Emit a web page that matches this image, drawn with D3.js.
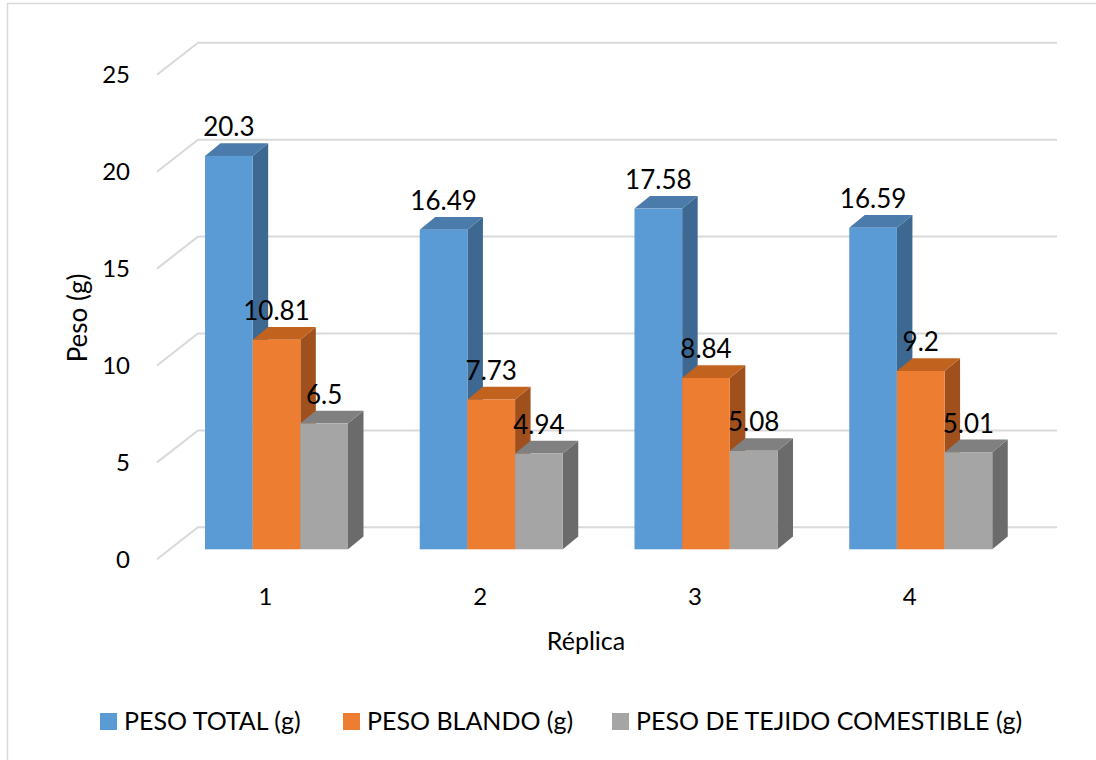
<!DOCTYPE html>
<html>
<head>
<meta charset="utf-8">
<script src="https://cdn.jsdelivr.net/npm/d3@7"></script>
<style>
  html, body { margin: 0; padding: 0; background: #ffffff; }
  svg { display: block; }
  text { font-family: Lato, "Open Sans", sans-serif; fill: #000; }
</style>
</head>
<body>
<svg id="chart" width="1096" height="760"></svg>
<script>
// Replicate categories and the three weight series (grams)
const categories = ["1", "2", "3", "4"];
const seriesNames = ["PESO TOTAL (g)", "PESO BLANDO (g)", "PESO DE TEJIDO COMESTIBLE (g)"];
const pesoTotal = [20.3, 16.49, 17.58, 16.59];
const pesoBlando = [10.81, 7.73, 8.84, 9.2];
const pesoComestible = [6.5, 4.94, 5.08, 5.01];
const yTicks = [0, 5, 10, 15, 20, 25];

const seriesValues = [pesoTotal, pesoBlando, pesoComestible];
const palette = [
  { front: "#5b9bd5", top: "#4a7bab", side: "#3c6892" },
  { front: "#ed7d31", top: "#c2621f", side: "#9f501c" },
  { front: "#a5a5a5", top: "#808080", side: "#6b6b6b" }
];

const svg = d3.select("#chart");

// outer chart-area border
svg.append("rect")
  .attr("x", 7.5).attr("y", 3.5)
  .attr("width", 1100).attr("height", 780)
  .attr("fill", "#fff")
  .attr("stroke", "#d9d9d9").attr("stroke-width", 1.5);

// value scale on the bars' front plane
const y = d3.scaleLinear().domain([0, 25]).range([549.3, 64.8]);

// category bands along the front edge of the floor
const x0 = d3.scaleBand().domain(categories).range([157, 1016]);
const x1 = d3.scaleBand().domain(d3.range(seriesNames.length)).range([0, 143]);
const groupOffset = 48;

// 3-D depth of the plot box and of each column
const wallDX = 41, wallFront = 10, wallBack = -22;
const depthX = 15.5, depthY = -12.7;

// gridlines: diagonal on the side wall + horizontal on the back wall
const grid = svg.append("g").attr("class", "grid");
yTicks.forEach(t => {
  const yy = y(t);
  grid.append("path")
    .attr("d", `M157,${yy + wallFront} L${157 + wallDX},${yy + wallBack} L1057,${yy + wallBack}`)
    .attr("fill", "none")
    .attr("stroke", "#d9d9d9")
    .attr("stroke-width", 2);
});

// y-axis tick labels
svg.append("g").selectAll("text")
  .data(yTicks).join("text")
  .attr("x", 130)
  .attr("y", d => y(d) + wallFront)
  .attr("dy", "0.35em")
  .attr("text-anchor", "end")
  .attr("font-size", 24)
  .text(d => d);

// columns, drawn left to right so each front face hides the previous side
const bars = [];
categories.forEach((c, ci) => {
  seriesValues.forEach((vals, si) => {
    bars.push({ c, ci, si, v: vals[ci] });
  });
});

const barG = svg.append("g");
bars.forEach(b => {
  const xl = x0(b.c) + groupOffset + x1(b.si);
  const w = x1.bandwidth();
  const yt = y(b.v), yb = y(0);
  const col = palette[b.si];
  const g = barG.append("g");
  g.append("path")
    .attr("d", `M${xl + w},${yt} L${xl + w + depthX},${yt + depthY} L${xl + w + depthX},${yb + depthY} L${xl + w},${yb} Z`)
    .attr("fill", col.side);
  g.append("path")
    .attr("d", `M${xl},${yt} L${xl + depthX},${yt + depthY} L${xl + w + depthX},${yt + depthY} L${xl + w},${yt} Z`)
    .attr("fill", col.top);
  g.append("rect")
    .attr("x", xl).attr("y", yt)
    .attr("width", w).attr("height", yb - yt)
    .attr("fill", col.front);
});

// value labels above each column
svg.append("g").selectAll("text")
  .data(bars).join("text")
  .attr("x", d => x0(d.c) + groupOffset + x1(d.si) + x1.bandwidth() / 2)
  .attr("y", d => y(d.v) + depthY - 7)
  .attr("text-anchor", "middle")
  .attr("font-size", 26)
  .text(d => d.v);

// category labels
svg.append("g").selectAll("text")
  .data(categories).join("text")
  .attr("x", d => x0(d) + x0.bandwidth() / 2 + 1)
  .attr("y", 605)
  .attr("text-anchor", "middle")
  .attr("font-size", 24)
  .text(d => d);

// axis titles
svg.append("text")
  .attr("x", 586).attr("y", 650)
  .attr("text-anchor", "middle")
  .attr("font-size", 25)
  .text("Réplica");

svg.append("text")
  .attr("transform", "translate(87,318) rotate(-90)")
  .attr("text-anchor", "middle")
  .attr("font-size", 26)
  .text("Peso (g)");

// legend
const legendX = [100, 343, 612];
const legend = svg.append("g");
seriesNames.forEach((name, i) => {
  legend.append("rect")
    .attr("x", legendX[i]).attr("y", 713)
    .attr("width", 17).attr("height", 17)
    .attr("fill", palette[i].front);
  legend.append("text")
    .attr("x", legendX[i] + 24).attr("y", 730)
    .attr("font-size", 25)
    .text(name);
});
</script>
</body>
</html>
